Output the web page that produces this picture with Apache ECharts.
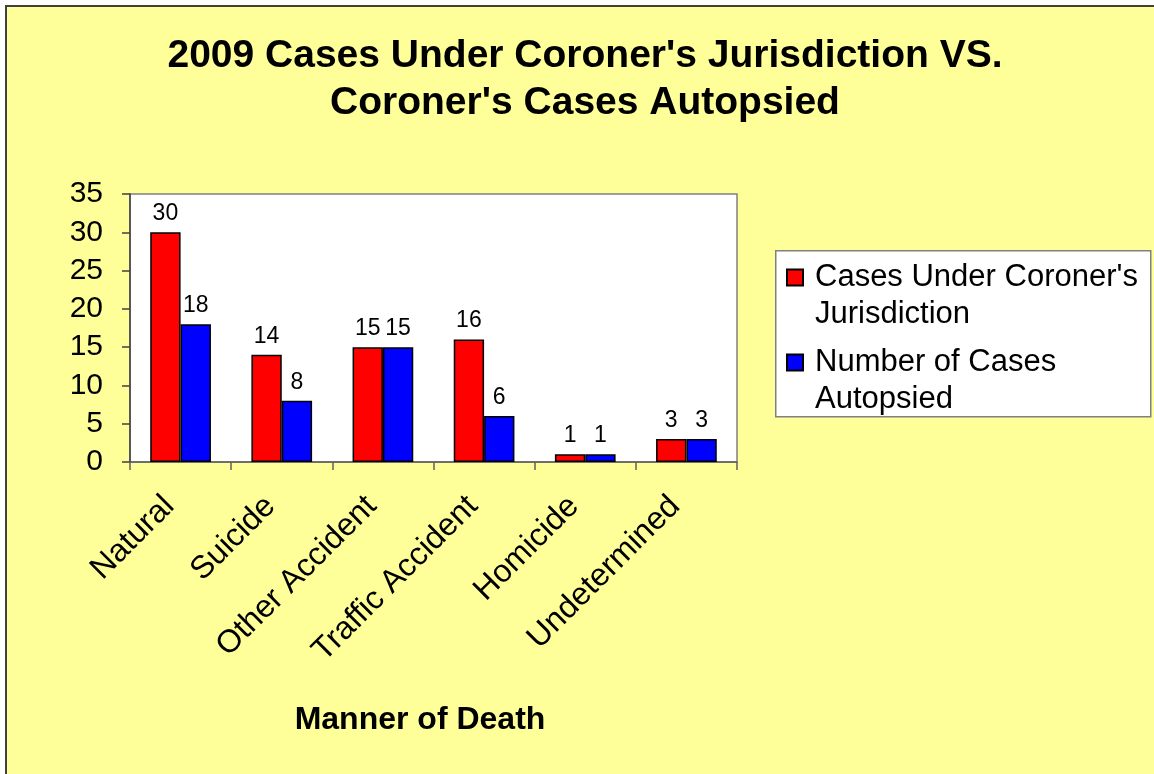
<!DOCTYPE html>
<html lang="en">
<head>
    <meta charset="UTF-8">
    <title>Coroner's Cases 2009</title>
    <script src="https://cdn.jsdelivr.net/npm/echarts@6/dist/echarts.min.js"></script>
    <style>
        body { margin: 0; background: #fff; }
        #frame { position: absolute; left: 5px; top: 5px; width: 1149px; height: 769px;
                 background: #FFFF99; border-left: 2px solid #404040; border-top: 2px solid #404040; box-sizing: border-box; }
        #main { position: absolute; left: 0; top: 0; width: 1154px; height: 774px; }
    </style>
</head>
<body>
    <div id="frame"></div>
    <div id="main"></div>

    <script>
        // categories and values
        const categories = ['Natural', 'Suicide', 'Other Accident', 'Traffic Accident', 'Homicide', 'Undetermined'];
        const jurisdiction = [30, 14, 15, 16, 1, 3];
        const autopsied = [18, 8, 15, 6, 1, 3];
        const seriesNames = ["Cases Under Coroner's Jurisdiction", 'Number of Cases Autopsied'];
        // wrapped legend text (blank first line keeps the icon on the first text line)
        const legendText = {};
        legendText[seriesNames[0]] = "\nCases Under Coroner's\nJurisdiction";
        legendText[seriesNames[1]] = '\nNumber of Cases\nAutopsied';

        const font = 'Liberation Sans, Arial, sans-serif';

        function legendFor(name, top) {
            return {
                data: [name],
                left: 786,
                top: top,
                orient: 'vertical',
                itemWidth: 16,
                itemHeight: 16,
                icon: 'rect',
                padding: 0,
                formatter: function (n) { return legendText[n]; },
                textStyle: { fontFamily: font, fontSize: 31, lineHeight: 37, color: '#000', padding: [0, 0, 0, 7] }
            };
        }

        const option = {
            animation: false,
            textStyle: { fontFamily: font },
            title: {
                text: "2009 Cases Under Coroner's Jurisdiction VS.\nCoroner's Cases Autopsied",
                left: 580,
                textAlign: 'center',
                top: 28,
                textStyle: { fontFamily: font, fontSize: 39, fontWeight: 'bold', lineHeight: 47, color: '#000' }
            },
            graphic: [{
                type: 'rect',
                left: 775, top: 250,
                shape: { width: 375, height: 166 },
                style: { fill: '#fff', stroke: '#808080', lineWidth: 1.5 },
                z: -1
            }],
            legend: [legendFor(seriesNames[0], 222), legendFor(seriesNames[1], 307)],
            grid: {
                left: 130, top: 194, width: 607, height: 268,
                show: true, backgroundColor: '#fff', borderColor: '#808080', borderWidth: 1.5
            },
            xAxis: {
                type: 'category',
                data: categories,
                name: 'Manner of Death',
                nameLocation: 'middle',
                nameGap: 242,
                nameTextStyle: { fontFamily: font, fontSize: 32, fontWeight: 'bold', color: '#000', padding: [0, 27, 0, 0] },
                axisLine: { lineStyle: { color: '#606060', width: 1.5 } },
                axisTick: { show: true, length: 8, interval: 0, lineStyle: { color: '#606060', width: 1.5 } },
                axisLabel: { interval: 0, rotate: 45, margin: 28, padding: [0, 16, 0, 0], fontSize: 32, color: '#000', fontFamily: font }
            },
            yAxis: {
                type: 'value',
                min: 0, max: 35, interval: 5,
                splitLine: { show: false },
                axisLine: { show: true, lineStyle: { color: '#404040', width: 1.5 } },
                axisTick: { show: true, length: 8, lineStyle: { color: '#404040', width: 1.5 } },
                axisLabel: { margin: 27, fontSize: 30, color: '#000', fontFamily: font }
            },
            series: [{
                name: seriesNames[0],
                type: 'bar',
                data: jurisdiction,
                barGap: '0%',
                barCategoryGap: '40%',
                itemStyle: { color: '#FF0000', borderColor: '#000', borderWidth: 1.5 },
                label: { show: true, position: 'top', distance: 7, fontSize: 23, color: '#000', fontFamily: font }
            }, {
                name: seriesNames[1],
                type: 'bar',
                data: autopsied,
                barGap: '0%',
                barCategoryGap: '40%',
                itemStyle: { color: '#0000FF', borderColor: '#000', borderWidth: 1.5 },
                label: { show: true, position: 'top', distance: 7, fontSize: 23, color: '#000', fontFamily: font }
            }]
        };

        var myChart = echarts.init(document.getElementById('main'));
        myChart.setOption(option);
    </script>
</body>
</html>
